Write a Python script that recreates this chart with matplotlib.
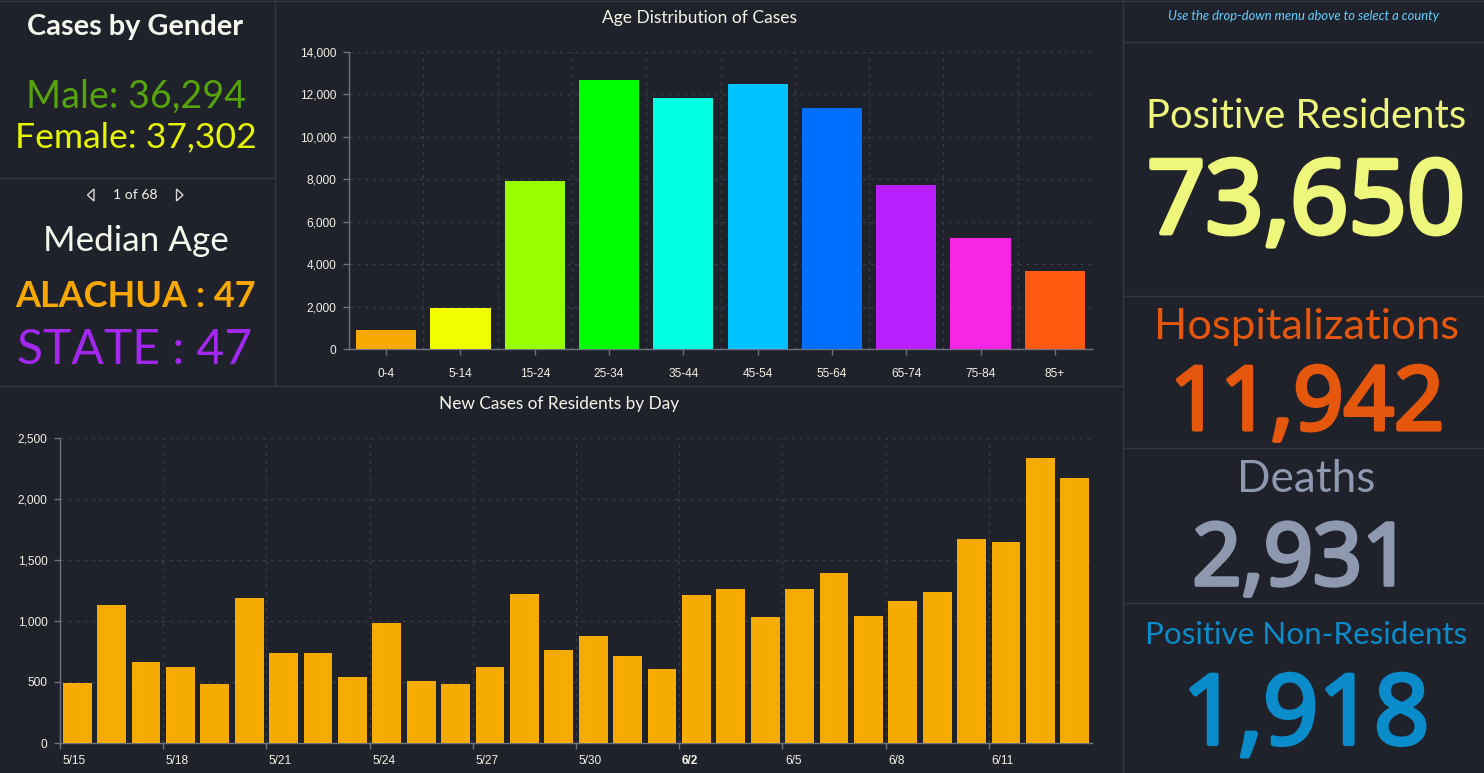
import matplotlib
matplotlib.use("Agg")
import matplotlib.pyplot as plt
import matplotlib.patheffects as pe
from matplotlib.lines import Line2D
from matplotlib.patches import Polygon
from matplotlib.transforms import ScaledTranslation

W, H = 1484, 773
BG = "#1f222b"
PANEL = "#333742"
GRID = "#3a3e49"
AXIS = "#6f7380"
TICK = "#f2f2e6"

age_groups = ["0-4", "5-14", "15-24", "25-34", "35-44", "45-54", "55-64", "65-74", "75-84", "85+"]
age_cases = [900, 1950, 7900, 12680, 11850, 12500, 11350, 7750, 5250, 3700]
age_colors = ["#f7ab00", "#f2ff00", "#96ff00", "#00ff00", "#00ffe1", "#00c3ff",
              "#006eff", "#b91fff", "#f824e6", "#ff5a10"]

day_labels = ["5/15", "5/18", "5/21", "5/24", "5/27", "5/30", "6/2", "6/5", "6/8", "6/11"]
daily_cases = [490, 1135, 660, 620, 480, 1190, 735, 735, 545, 985,
               505, 480, 620, 1225, 760, 880, 710, 610, 1210, 1265,
               1030, 1260, 1395, 1040, 1160, 1235, 1670, 1645, 2335, 2175]


def make_axes(fig, left, top, right, bottom):
    ax = fig.add_axes([left / W, 1 - bottom / H, (right - left) / W, (bottom - top) / H])
    ax.set_facecolor("none")
    ax.set_axisbelow(True)
    for side in ["top", "right"]:
        ax.spines[side].set_visible(False)
    for side in ["left", "bottom"]:
        ax.spines[side].set_color(AXIS)
        ax.spines[side].set_linewidth(1)
    ax.grid(True, color=GRID, linestyle=(0, (3, 4)), linewidth=0.8)
    ax.tick_params(colors=TICK, labelsize=8.6, length=4.5, width=1, color=AXIS)
    ax.tick_params(axis="y", pad=4.5)
    ax.yaxis.set_major_formatter(lambda v, pos: f"{int(v):,}")
    return ax


def txt(fig, x, y, s, px, color, family="Lato", weight="normal", style="normal", stroke=0):
    t = fig.text(x / W, 1 - y / H, s, fontsize=px * 72 / 100, color=color, family=family,
                 weight=weight, style=style, ha="center", va="center_baseline")
    if stroke:
        t.set_path_effects([pe.withStroke(linewidth=stroke, foreground=color)])


def hline(fig, y, x0, x1):
    fig.add_artist(Line2D([x0 / W, x1 / W], [1 - y / H, 1 - y / H], color=PANEL, lw=1))


def vline(fig, x, y0, y1):
    fig.add_artist(Line2D([x / W, x / W], [1 - y0 / H, 1 - y1 / H], color=PANEL, lw=1))


plt.rcParams["font.family"] = ["Liberation Sans", "DejaVu Sans"]
fig = plt.figure(figsize=(W / 100, H / 100), dpi=100, facecolor=BG)

# panel dividers
hline(fig, 0.5, 0, W)
vline(fig, 274.5, 0, 386)
vline(fig, 1122.5, 0, H)
hline(fig, 177.5, 0, 275)
hline(fig, 385.5, 0, 1123)
for y in [41.5, 295.5, 447.5, 602.5]:
    hline(fig, y, 1123, W)

# age chart
ax1 = make_axes(fig, 349, 52, 1092, 349)
ax1.bar(range(len(age_groups)), age_cases, width=0.81, color=age_colors, zorder=3)
ax1.set_xlim(-0.5, len(age_groups) - 0.5)
ax1.set_ylim(0, 14000)
ax1.set_yticks(range(0, 14001, 2000))
ax1.set_xticks(range(len(age_groups)), age_groups)
ax1.set_xticks([i - 0.5 for i in range(len(age_groups) + 1)], minor=True)
ax1.grid(False, axis="x", which="major")
ax1.grid(True, axis="x", which="minor", color=GRID, linestyle=(0, (3, 4)), linewidth=0.8)
ax1.tick_params(axis="x", which="minor", length=0)
ax1.tick_params(axis="x", which="major", pad=9)

# daily chart
ax2 = make_axes(fig, 60, 438, 1092, 743)
ax2.bar(range(len(daily_cases)), daily_cases, width=0.84, color="#f6ab00", zorder=3)
ax2.set_xlim(-0.5, len(daily_cases) - 0.5)
ax2.set_ylim(0, 2500)
ax2.set_yticks(range(0, 2501, 500))
ax2.set_xticks([i * 3 - 0.5 for i in range(len(day_labels))], day_labels, ha="left")
ax2.tick_params(axis="x", pad=4)
for lab in ax2.get_xticklabels():
    lab.set_transform(lab.get_transform() + ScaledTranslation(2.5 / 100, 0, fig.dpi_scale_trans))
ax2.get_xticklabels()[6].set_fontweight("bold")

# chart titles
txt(fig, 700, 16, "Age Distribution of Cases", 17.4, "#f4f6e8")
txt(fig, 559, 402, "New Cases of Residents by Day", 17.2, "#f4f6e8")

# left column
txt(fig, 135.5, 24, "Cases by Gender", 29, "#f4f8ee", weight="bold")
txt(fig, 136, 93, "Male: 36,294", 37.7, "#57a30b")
txt(fig, 136, 134, "Female: 37,302", 35.5, "#e6f500")
txt(fig, 135, 194, "1 of 68", 14, "#f4f6e8")
fig.add_artist(Polygon([(94 / W, 1 - 189 / H), (87.5 / W, 1 - 195 / H), (94 / W, 1 - 201 / H)],
                       closed=True, fill=False, edgecolor="#d8d8d8", lw=1))
fig.add_artist(Polygon([(176.5 / W, 1 - 189 / H), (183 / W, 1 - 195 / H), (176.5 / W, 1 - 201 / H)],
                       closed=True, fill=False, edgecolor="#d8d8d8", lw=1))
txt(fig, 135.5, 238, "Median Age", 35, "#f4f8ee")
txt(fig, 135.5, 294, "ALACHUA : 47", 36, "#f8a800", weight="bold")
txt(fig, 135, 346, "STATE : 47", 48, "#a228f0")

# right column
txt(fig, 1304, 15, "Use the drop-down menu above to select a county", 13, "#62d0ff", style="italic")
txt(fig, 1306, 113, "Positive Residents", 40, "#eef77c")
txt(fig, 1306, 194, "73,650", 102, "#eef77c", family="Open Sans", stroke=3.5)
txt(fig, 1307, 323, "Hospitalizations", 43.5, "#e4570c")
txt(fig, 1307, 396, "11,942", 88, "#e4570c", family="Open Sans", stroke=3)
txt(fig, 1306, 476, "Deaths", 44, "#8e99b0")
txt(fig, 1302, 552, "2,931", 86, "#8e99b0", family="Open Sans", stroke=3)
txt(fig, 1306, 633, "Positive Non-Residents", 31.4, "#0a8ccb")
txt(fig, 1306, 707, "1,918", 97, "#0a8ccb", family="Open Sans", stroke=3)

fig.savefig("out.png", dpi=100, facecolor=BG)
